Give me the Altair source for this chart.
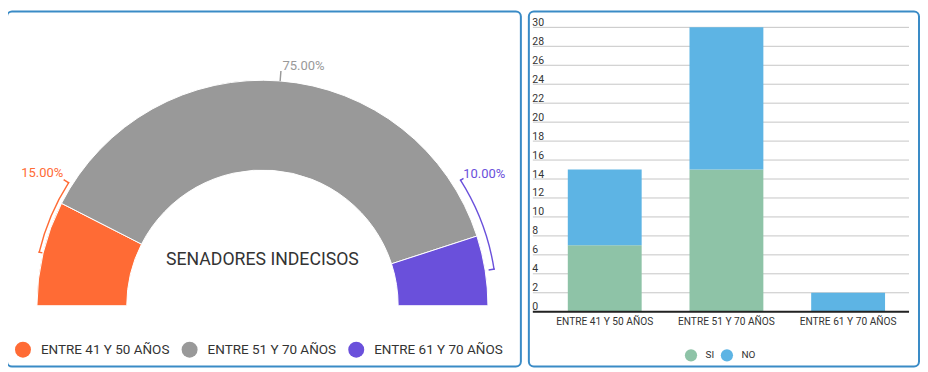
import math
import altair as alt
import pandas as pd

# ---------------- data ----------------
grupos = ["ENTRE 41 Y 50 AÑOS", "ENTRE 51 Y 70 AÑOS", "ENTRE 61 Y 70 AÑOS"]
porcentajes = [15, 75, 10]
colores_grupo = ["#FF6B35", "#999999", "#6A50DB"]

respuestas = ["SI", "NO"]
si_valores = [7, 15, 0]
no_valores = [8, 15, 2]
colores_resp = ["#8EC3A7", "#5DB4E4"]
y_ticks = list(range(0, 31, 2))

titulo_centro = "SENADORES INDECISOS"

FONT = "Roboto"
TXT = "#333333"
BORDER = alt.ViewBackground(stroke="#3a8bc6", strokeWidth=2, cornerRadius=5, fill="white")

# ---------------- donut (left panel) ----------------
W_L, H = 515, 356
CX, CY = 256, 295
R_OUT, R_IN = 226, 136

donut_df = pd.DataFrame({"grupo": grupos, "valor": porcentajes,
                         "orden": list(range(len(grupos)))})
total = sum(porcentajes)
theta_scale = alt.Scale(domain=[0, total], range=[-math.pi / 2, math.pi / 2])


def base_donut():
    return (alt.Chart(donut_df)
            .transform_window(fin="sum(valor)", sort=[alt.SortField("orden")], frame=[None, 0])
            .transform_calculate(ini="datum.fin - datum.valor")
            .transform_calculate(mid="(datum.ini + datum.fin) / 2")
            .transform_calculate(etiqueta="format(datum.valor, '.2f') + '%'"))


arcs = base_donut().mark_arc(radius=R_OUT, radius2=R_IN, stroke="white", strokeWidth=1).encode(
    theta=alt.Theta("ini:Q", scale=theta_scale, stack=None),
    theta2="fin:Q",
    color=alt.Color("grupo:N", scale=alt.Scale(domain=grupos, range=colores_grupo),
                    legend=alt.Legend(orient="none", legendX=8, legendY=331, direction="horizontal",
                                      title=None, symbolType="circle", symbolSize=256,
                                      symbolStrokeWidth=0, symbolOpacity=1,
                                      labelFont=FONT, labelFontSize=13.5, labelColor=TXT,
                                      labelOffset=10, columnPadding=12, padding=0,
                                      labelLimit=300)),
    order=alt.Order("orden:Q"),
    x=alt.value(CX), y=alt.value(CY),
)


def piece(i, a0, a1, r_ext, r_int):
    return (base_donut()
            .transform_filter(alt.datum.grupo == grupos[i])
            .transform_calculate(a0=a0, a1=a1)
            .mark_arc(radius=r_ext, radius2=r_int, color=colores_grupo[i], strokeWidth=0)
            .encode(theta=alt.Theta("a0:Q", scale=theta_scale, stack=None), theta2="a1:Q",
                    x=alt.value(CX), y=alt.value(CY)))


def label(i, ang, radius, align, dx, dy):
    return (base_donut()
            .transform_filter(alt.datum.grupo == grupos[i])
            .transform_calculate(ang=ang)
            .mark_text(radius=radius, align=align, baseline="middle", dx=dx, dy=dy,
                       font=FONT, fontSize=13, color=colores_grupo[i])
            .encode(theta=alt.Theta("ang:Q", scale=theta_scale, stack=None),
                    text="etiqueta:N", x=alt.value(CX), y=alt.value(CY)))


guides = [
    # orange bracket
    piece(0, "datum.ini + 7.4", "datum.fin + 3.1", 230.8, 229.4),
    piece(0, "datum.ini + 7.4", "datum.ini + 7.6", 230.8, 226.8),
    piece(0, "datum.fin + 2.9", "datum.fin + 3.1", 236.0, 229.4),
    # purple bracket
    piece(2, "datum.ini - 8.06", "datum.fin - 4.9", 235.7, 234.3),
    piece(2, "datum.ini - 8.06", "datum.ini - 7.86", 238.5, 234.3),
    piece(2, "datum.fin - 5.1", "datum.fin - 4.9", 235.7, 229.5),
    # gray leader
    piece(1, "datum.mid - 0.1", "datum.mid + 0.1", 236.0, 226.0),
]

labels = [
    label(0, "datum.fin + 3.33", 238, "right", 0, -3),
    label(1, "datum.mid", 237, "left", 1.5, -4),
    label(2, "datum.ini - 8.2", 238, "left", 1, -3),
]

centro = alt.Chart(pd.DataFrame({"t": [titulo_centro]})).mark_text(
    font=FONT, fontSize=17.7, color=TXT, align="center", baseline="middle"
).encode(text="t:N", x=alt.value(CX), y=alt.value(249))

left = alt.layer(arcs, *guides, *labels, centro).properties(width=W_L, height=H, view=BORDER)

# ---------------- stacked bars (right panel) ----------------
W_R = 391
bar_df = pd.DataFrame({
    "grupo": grupos * 2,
    "respuesta": ["SI"] * 3 + ["NO"] * 3,
    "cantidad": si_valores + no_valores,
    "orden": [0] * 3 + [1] * 3,
})
grid_df = pd.DataFrame({"v": y_ticks})

y_scale = alt.Scale(domain=[0, 30], range=[301, 16], nice=False, zero=True)
y_axis = alt.Axis(title=None, values=y_ticks, domain=False, ticks=False, tickSize=0,
                  grid=False, labelAlign="left", labelPadding=-3,
                  labelBaseline="alphabetic", labelOffset=-2, labelFlush=False,
                  labelOverlap=False, labelFont=FONT, labelFontSize=10.5,
                  labelColor=TXT)

grid = alt.Chart(grid_df).mark_rule(color="#c6c6c6", strokeWidth=1).encode(
    y=alt.Y("v:Q", scale=y_scale, axis=y_axis), x=alt.value(4), x2=alt.value(381))

bars = alt.Chart(bar_df).mark_bar().encode(
    x=alt.X("grupo:N", sort=grupos,
            scale=alt.Scale(range=[15, 381], paddingInner=0.393, paddingOuter=0.197),
            axis=alt.Axis(title=None, labelAngle=0, domain=False, ticks=False, tickSize=0,
                          labelPadding=5, labelFont=FONT, labelFontSize=10.2,
                          labelColor=TXT, offset=-55, labelBaseline="top")),
    y=alt.Y("cantidad:Q", stack="zero", scale=y_scale, axis=y_axis),
    color=alt.Color("respuesta:N", scale=alt.Scale(domain=respuestas, range=colores_resp),
                    legend=alt.Legend(orient="none", legendX=156, legendY=338,
                                      direction="horizontal", title=None, symbolType="circle",
                                      symbolSize=150, symbolStrokeWidth=0, symbolOpacity=1,
                                      labelFont=FONT, labelFontSize=10, labelColor=TXT,
                                      labelOffset=8, columnPadding=6, padding=0)),
    order=alt.Order("orden:Q"),
)

cero = alt.Chart(grid_df).transform_filter(alt.datum.v == 0).mark_rule(
    color="#222222", strokeWidth=2).encode(
    y=alt.Y("v:Q", scale=y_scale, axis=y_axis), x=alt.value(4), x2=alt.value(381))

right = alt.layer(grid, bars, cero).properties(width=W_R, height=H, view=BORDER)

chart = (alt.hconcat(left, right, spacing=6)
         .resolve_scale(color="independent", theta="independent")
         .properties(padding={"left": -2, "top": 2, "right": 0, "bottom": 0},
                     background="white")
         .configure_view(stroke="#3a8bc6", strokeWidth=2, cornerRadius=5)
         .configure(font=FONT))

chart.save("out.html", embed_options={"renderer": "svg", "actions": False})
